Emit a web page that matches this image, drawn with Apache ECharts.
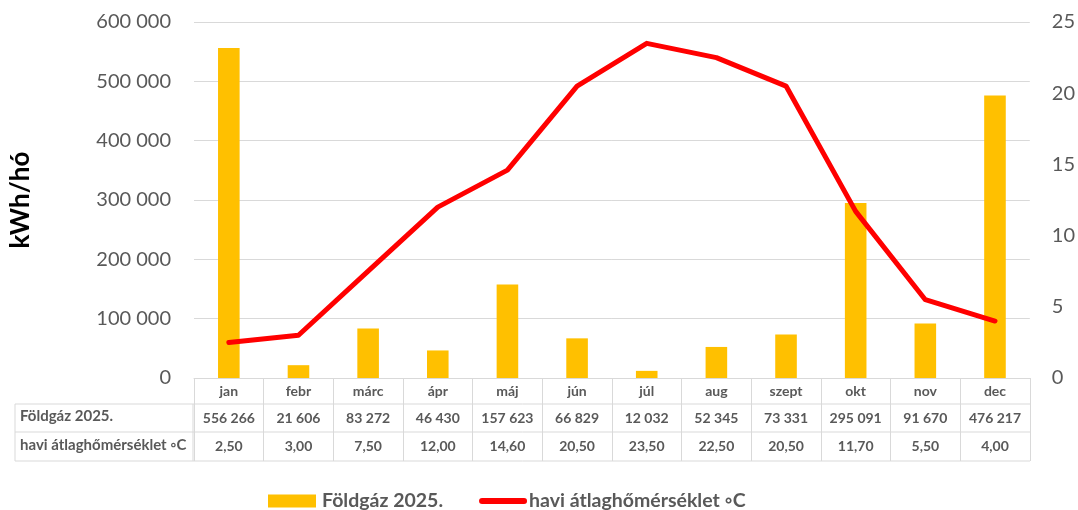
<!DOCTYPE html>
<html>
<head>
<meta charset="utf-8">
<script src="https://cdn.jsdelivr.net/npm/echarts@6/dist/echarts.min.js"></script>
<style>
  html, body { margin: 0; padding: 0; background: #fff; }
  #chart { width: 1078px; height: 510px; }
</style>
</head>
<body>
<div id="chart"></div>
<script>
var months = ['jan', 'febr', 'márc', 'ápr', 'máj', 'jún', 'júl', 'aug', 'szept', 'okt', 'nov', 'dec'];
var gas = [556266, 21606, 83272, 46430, 157623, 66829, 12032, 52345, 73331, 295091, 91670, 476217];
var temp = [2.5, 3.0, 7.5, 12.0, 14.6, 20.5, 23.5, 22.5, 20.5, 11.7, 5.5, 4.0];
var gasName = 'Földgáz 2025.';
var tempName = 'havi átlaghőmérséklet ◦C';

function fmtNum(v) {
    return String(v).replace(/\B(?=(\d{3})+(?!\d))/g, ' ');
}
function fmtTemp(v) {
    return v.toFixed(2).replace('.', ',');
}

// table geometry (px)
var gLeft = 193, gRight = 1030, gTop = 22, gBottom = 378;
var row1 = 404, row2 = 432, row3 = 461, tableLeft = 15;
var lineColor = '#d9d9d9';
var textColor = '#595959';
var font = 'Lato, "Open Sans", sans-serif';

var chart = echarts.init(document.getElementById('chart'));
var option = {
    textStyle: { fontFamily: font },
    animation: false,
    grid: {
        left: gLeft,
        right: 1078 - gRight,
        top: gTop,
        bottom: 510 - gBottom
    },
    legend: {
        top: 486,
        left: 263,
        itemGap: 36,
        itemWidth: 48,
        itemHeight: 13,
        textStyle: { color: textColor, fontSize: 19.5, fontWeight: 'bold', fontFamily: font },
        data: [
            { name: gasName, icon: 'rect', textStyle: { padding: [0, 0, 0, 1] } },
            {
                name: tempName,
                icon: 'path://M3,0 L45,0 A3,3 0 0 1 45,6 L3,6 A3,3 0 0 1 3,0 Z',
                itemStyle: { color: '#FF0000' },
                textStyle: { padding: [0, 0, 0, -3] }
            }
        ]
    },
    xAxis: {
        type: 'category',
        data: months,
        axisLine: { lineStyle: { color: lineColor, width: 1 } },
        axisTick: { show: true, length: row3 - gBottom, lineStyle: { color: lineColor, width: 1 } },
        axisLabel: {
            interval: 0,
            margin: 0,
            formatter: function (v, i) {
                return '{a|' + v + '}\n{b|' + fmtNum(gas[i]) + '}\n{c|' + fmtTemp(temp[i]) + '}';
            },
            rich: {
                a: { lineHeight: row1 - gBottom, fontSize: 14, fontWeight: 'bold', color: textColor, fontFamily: font },
                b: { lineHeight: row2 - row1, fontSize: 14, fontWeight: 'bold', color: textColor, fontFamily: font },
                c: { lineHeight: row3 - row2, fontSize: 14, fontWeight: 'bold', color: textColor, fontFamily: font }
            }
        }
    },
    yAxis: [
        {
            type: 'value',
            min: 0,
            max: 600000,
            interval: 100000,
            name: 'kWh/hó',
            nameLocation: 'middle',
            nameGap: 160,
            nameTextStyle: { fontSize: 26, fontWeight: 'bold', color: '#000', fontFamily: font },
            axisLine: { show: false },
            axisTick: { show: false },
            axisLabel: { fontSize: 20, color: textColor, margin: 23, formatter: fmtNum },
            splitLine: { lineStyle: { color: lineColor, width: 1 } }
        },
        {
            type: 'value',
            min: 0,
            max: 25,
            interval: 5,
            position: 'right',
            axisLine: { show: false },
            axisTick: { show: false },
            axisLabel: { fontSize: 20, color: textColor, margin: 22 },
            splitLine: { show: false }
        }
    ],
    graphic: [
        { type: 'line', shape: { x1: tableLeft, y1: row1, x2: gRight, y2: row1 }, style: { stroke: lineColor, lineWidth: 1 } },
        { type: 'line', shape: { x1: tableLeft, y1: row2, x2: gRight, y2: row2 }, style: { stroke: lineColor, lineWidth: 1 } },
        { type: 'line', shape: { x1: tableLeft, y1: row3, x2: gRight, y2: row3 }, style: { stroke: lineColor, lineWidth: 1 } },
        { type: 'line', shape: { x1: tableLeft, y1: row1, x2: tableLeft, y2: row3 }, style: { stroke: lineColor, lineWidth: 1 } },
        { type: 'line', shape: { x1: gLeft, y1: row1, x2: gLeft, y2: row3 }, style: { stroke: lineColor, lineWidth: 1 } },
        {
            type: 'text', left: tableLeft + 5, top: (row1 + row2) / 2 - 9,
            style: { text: gasName, fill: textColor, font: 'bold 15px ' + font }
        },
        {
            type: 'text', left: tableLeft + 5, top: (row2 + row3) / 2 - 9,
            style: { text: tempName, fill: textColor, font: 'bold 15px ' + font }
        }
    ],
    series: [
        {
            name: gasName,
            type: 'bar',
            data: gas,
            barWidth: '31%',
            itemStyle: { color: '#FFC000' }
        },
        {
            name: tempName,
            type: 'line',
            yAxisIndex: 1,
            data: temp,
            symbol: 'none',
            z: 5,
            lineStyle: { color: '#FF0000', width: 5, cap: 'round', join: 'round' },
            itemStyle: { color: '#FF0000' }
        }
    ]
};
chart.setOption(option);
</script>
</body>
</html>
